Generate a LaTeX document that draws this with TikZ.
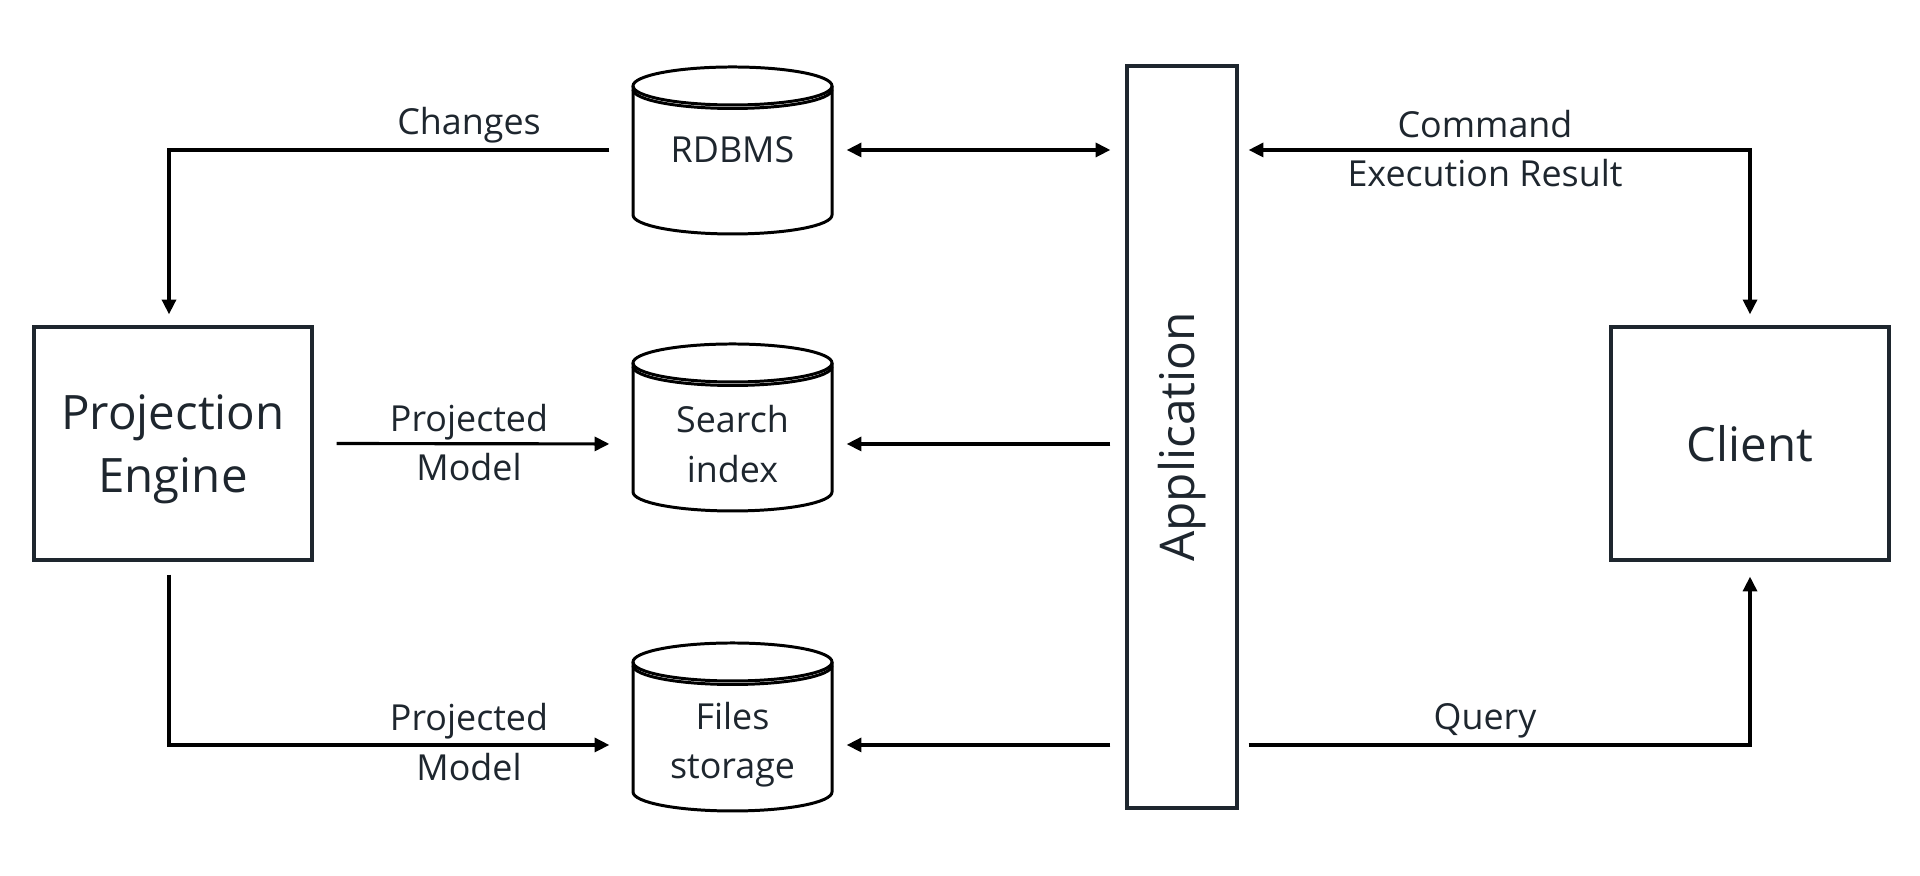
\documentclass[tikz,border=0pt]{standalone}
\usepackage{fontspec}
\setmainfont{Open Sans}
\usepackage{tikz}
\usetikzlibrary{arrows.meta, calc}
\definecolor{ink}{RGB}{30,38,46}

\begin{document}
\begin{tikzpicture}[
    >={Triangle[length=4.2pt, width=4.0pt]},
    box/.style={draw=ink, line width=0.95pt, text=ink, minimum width=2.78cm, minimum height=2.33cm, text depth=0pt, align=center, font=\fontsize{13.5}{18}\selectfont},
    store/.style={text=ink, minimum width=1.99cm, inner sep=0pt, align=center, font=\fontsize{10.2}{14}\selectfont},
    lbl/.style={text=ink, align=center, font=\fontsize{10.2}{14}\selectfont},
    cyl/.style={draw=black, line width=0.85pt},
    link/.style={draw=black, line width=0.9pt, ->},
  ]
    \useasboundingbox (0,0) rectangle (19.2,8.76);

    \node[box] at (1.73,4.325) (pe) {Projection\\Engine};
    \node[box] at (17.50,4.325) (client) {Client};
    \node[draw=ink, line width=0.95pt, minimum width=1.10cm, minimum height=7.42cm,
          label={[rotate=90, text=ink, font=\fontsize{13.6}{18}\selectfont]center:Application}] at (11.82,4.39) (app) {};

    \node[store] at (7.325,7.26) (rdbms) {RDBMS};
    \node[store] at (7.325,4.32) (search) {Search\\index};
    \node[store] at (7.325,1.31) (files) {Files\\storage};

    \foreach \n/\up/\dn in {rdbms/0.83/0.84, search/1.00/0.67, files/1.02/0.66}{
        \draw[cyl] ($(\n.center)+(-0.995,\up-0.19)$) -- ($(\n.center)+(-0.995,0.19-\dn)$)
            arc (180:360:0.995 and 0.19) -- ($(\n.center)+(0.995,\up-0.19)$);
        \draw[cyl] ($(\n.center)+(0,\up-0.19)$) ellipse (0.995 and 0.19);
        \draw[cyl] ($(\n.center)+(-0.995,\up-0.225)$) arc (180:360:0.995 and 0.19);
    }

    \draw[link, shorten <=0.23cm, shorten >=0.11cm] (rdbms.west) -| ([xshift=-0.04cm]pe.north);
    \draw[link, shorten <=0.23cm, shorten >=0.23cm] (pe.east) -- (search.west);
    \draw[link, shorten <=0.13cm, shorten >=0.23cm] ([xshift=-0.04cm]pe.south) |- (files.west);

    \draw[link, <->, shorten <=0.14cm, shorten >=0.15cm] (rdbms.east) -- (app.west |- rdbms.east);
    \draw[link, shorten <=0.15cm, shorten >=0.14cm] (app.west |- search.east) -- (search.east);
    \draw[link, shorten <=0.15cm, shorten >=0.14cm] (app.west |- files.east) -- (files.east);

    \draw[link, <->, shorten <=0.10cm, shorten >=0.11cm] (app.east |- rdbms.east) -| (client.north);
    \draw[link, shorten <=0.10cm, shorten >=0.15cm] (app.east |- files.east) -| (client.south);

    \node[lbl] at (4.69,7.51) (chg) {Changes};
    \node[lbl] at (4.69,4.335) (pm1) {Projected\\Model};
    \node[lbl] at (4.69,1.34) (pm2) {Projected\\Model};
    \node[lbl] at (14.85,7.275) (cmd) {Command\\Execution Result};
    \node[lbl] at (14.85,1.55) (qry) {Query};
\end{tikzpicture}
\end{document}
